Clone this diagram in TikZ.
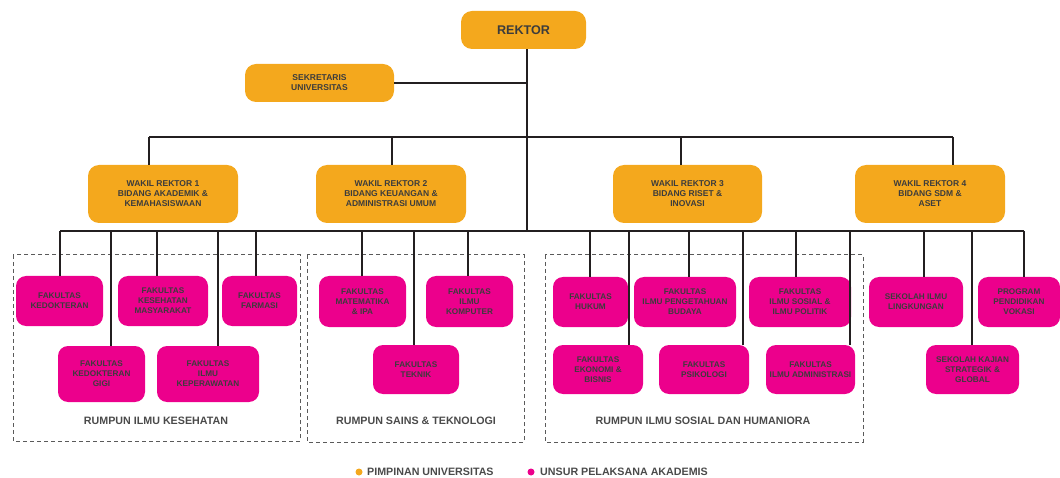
\documentclass[tikz,border=0pt]{standalone}
\usepackage{fontspec}
\setmainfont{Liberation Sans}
\usetikzlibrary{calc}
\definecolor{orng}{HTML}{F4A81D}
\definecolor{mgnt}{HTML}{EC008C}
\definecolor{txt}{HTML}{3C3C3C}
\definecolor{wirec}{HTML}{231F20}
\definecolor{dsh}{HTML}{5A5A5A}
\definecolor{lbl}{HTML}{4A4A4A}
\begin{document}
\begin{tikzpicture}[x=1pt,y=-1pt,
  obox/.style={rectangle, rounded corners=11pt, fill=orng, inner sep=0pt, align=center, text=txt,
    font=\fontsize{8.5}{10}\selectfont\bfseries},
  mbox/.style={rectangle, rounded corners=10pt, fill=mgnt, inner sep=0pt, align=center, text=txt,
    font=\fontsize{8.2}{10}\selectfont\bfseries},
  wire/.style={draw=wirec, line width=2pt},
  group/.style={draw=dsh, line width=1pt, dash pattern=on 4pt off 3pt},
  grouplabel/.style={font=\fontsize{10.7}{12}\selectfont\bfseries, text=lbl},
  legend/.style={font=\fontsize{10.7}{12}\selectfont\bfseries, text=lbl, anchor=west, inner sep=0pt},
  dot/.style={circle, inner sep=0pt, minimum size=7pt}]
\useasboundingbox (0,0) rectangle (1060,478);

% dashed groups
\draw[group] (13,255) rectangle (300,441);
\draw[group] (307,255) rectangle (524,442);
\draw[group] (545,255) rectangle (863,442);
\node[grouplabel] (g1) at (156,421) {RUMPUN ILMU KESEHATAN};
\node[grouplabel] (g2) at (416,421) {RUMPUN SAINS \& TEKNOLOGI};
\node[grouplabel] (g3) at (703,421) {RUMPUN ILMU SOSIAL DAN HUMANIORA};

% leadership
\node[obox, minimum width=125pt, minimum height=38pt, font=\fontsize{12.6}{15}\selectfont\bfseries] (rektor) at (523.5,30) {REKTOR};
\node[obox, minimum width=149pt, minimum height=38pt] (sek) at (319.5,83) {SEKRETARIS\\UNIVERSITAS};
\node[obox, minimum width=150pt, minimum height=58pt] (wr1) at (163,194) {WAKIL REKTOR 1\\BIDANG AKADEMIK \&\\KEMAHASISWAAN};
\node[obox, minimum width=150pt, minimum height=58pt] (wr2) at (391,194) {WAKIL REKTOR 2\\BIDANG KEUANGAN \&\\ADMINISTRASI UMUM};
\node[obox, minimum width=149pt, minimum height=58pt] (wr3) at (687.5,194) {WAKIL REKTOR 3\\BIDANG RISET \&\\INOVASI};
\node[obox, minimum width=150pt, minimum height=58pt] (wr4) at (930,194) {WAKIL REKTOR 4\\BIDANG SDM \&\\ASET};

% faculties
\node[mbox, minimum width=87pt, minimum height=50pt] (ked) at (59.5,301) {FAKULTAS\\KEDOKTERAN};
\node[mbox, minimum width=90pt, minimum height=50pt] (kesmas) at (163,301) {FAKULTAS\\KESEHATAN\\MASYARAKAT};
\node[mbox, minimum width=75pt, minimum height=50pt] (farm) at (259.5,301) {FAKULTAS\\FARMASI};
\node[mbox, minimum width=87pt, minimum height=56pt] (kg) at (101.5,374) {FAKULTAS\\KEDOKTERAN\\GIGI};
\node[mbox, minimum width=102pt, minimum height=56pt] (kep) at (208,374) {FAKULTAS\\ILMU\\KEPERAWATAN};

\node[mbox, minimum width=87pt, minimum height=51pt] (mipa) at (362.5,301.5) {FAKULTAS\\MATEMATIKA\\\& IPA};
\node[mbox, minimum width=87pt, minimum height=51pt] (ilkom) at (469.5,301.5) {FAKULTAS\\ILMU\\KOMPUTER};
\node[mbox, minimum width=86pt, minimum height=49pt] (tek) at (416,369.5) {FAKULTAS\\TEKNIK};

\node[mbox, minimum width=75pt, minimum height=50pt] (hukum) at (590.5,302) {FAKULTAS\\HUKUM};
\node[mbox, minimum width=102pt, minimum height=50pt] (ipb) at (685,302) {FAKULTAS\\ILMU PENGETAHUAN\\BUDAYA};
\node[mbox, minimum width=102pt, minimum height=50pt] (isip) at (800,302) {FAKULTAS\\ILMU SOSIAL \&\\ILMU POLITIK};
\node[mbox, minimum width=90pt, minimum height=49pt] (eko) at (598,369.5) {FAKULTAS\\EKONOMI \&\\BISNIS};
\node[mbox, minimum width=90pt, minimum height=49pt] (psi) at (704,369.5) {FAKULTAS\\PSIKOLOGI};
\node[mbox, minimum width=89pt, minimum height=49pt] (adm) at (810.5,369.5) {FAKULTAS\\ILMU ADMINISTRASI};

\node[mbox, minimum width=94pt, minimum height=50pt] (ling) at (916,302) {SEKOLAH ILMU\\LINGKUNGAN};
\node[mbox, minimum width=82pt, minimum height=50pt] (vok) at (1019,302) {PROGRAM\\PENDIDIKAN\\VOKASI};
\node[mbox, minimum width=93pt, minimum height=49pt] (ksg) at (972.5,369.5) {SEKOLAH KAJIAN\\STRATEGIK \&\\GLOBAL};

% connectors
\coordinate (spine) at (527,231);
\draw[wire] (rektor.south -| spine) -- (spine);
\draw[wire] (sek.east) -- (sek.east -| spine);
\coordinate (ubl) at (149,137);
\coordinate (ubr) at (953,137);
\draw[wire] (ubl) -- (ubr);
\foreach \x/\n in {149/wr1, 392/wr2, 681/wr3, 953/wr4}{
  \coordinate (u\n) at (\x,137);
  \draw[wire] (u\n) -- (u\n |- \n.north);
}
\coordinate (lbl0) at (60,231);
\coordinate (lbr0) at (1024,231);
\draw[wire] (lbl0) -- (lbr0);
\foreach \x/\n in {60/ked, 111/kg, 157/kesmas, 218/kep, 256/farm, 362/mipa, 414/tek, 468/ilkom,
  590/hukum, 629/eko, 689/ipb, 743/psi, 796/isip, 850/adm, 924/ling, 972/ksg, 1024/vok}{
  \coordinate (d\n) at (\x,231);
  \draw[wire] (d\n) -- (d\n |- \n.north);
}

% legend
\node[dot, fill=orng] (ld1) at (359,472) {};
\node[legend] (lt1) at (367,472) {PIMPINAN UNIVERSITAS};
\node[dot, fill=mgnt] (ld2) at (531,472) {};
\node[legend] (lt2) at (540,472) {UNSUR PELAKSANA AKADEMIS};
\end{tikzpicture}
\end{document}
